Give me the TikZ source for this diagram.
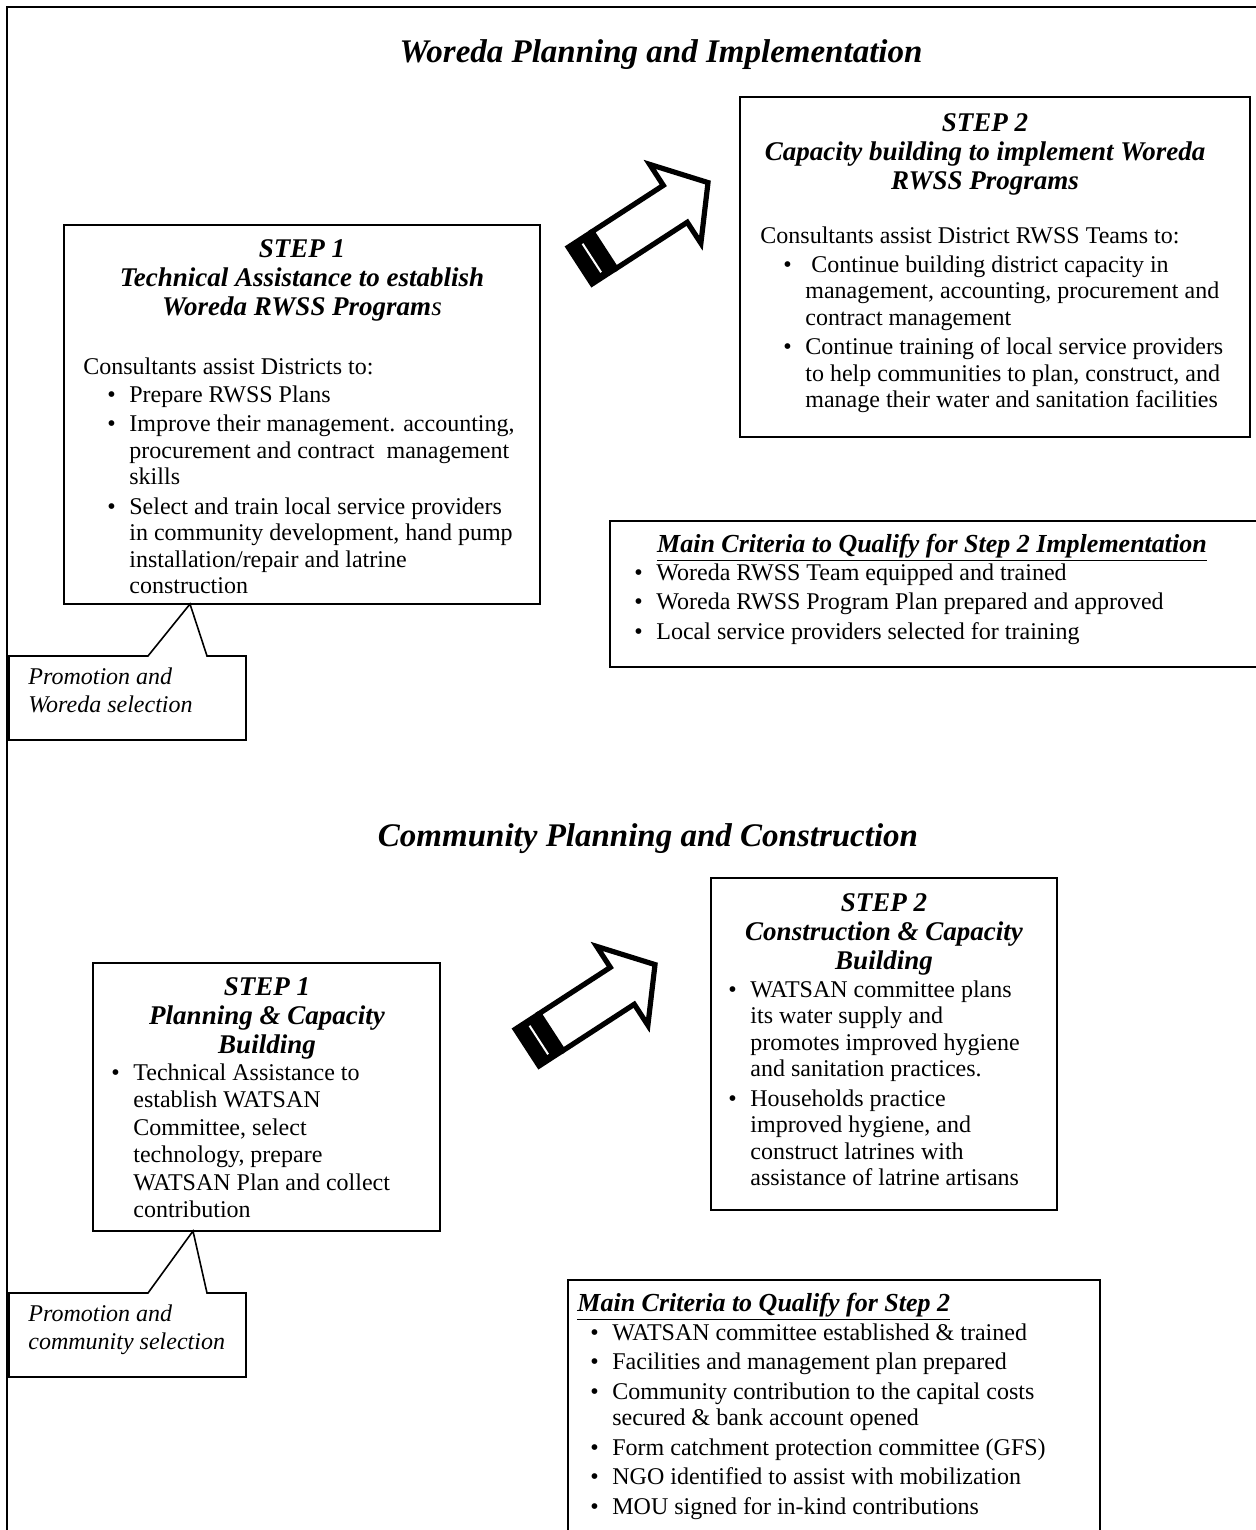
\documentclass[tikz,border=0pt]{standalone}
\usepackage{fontspec}
\setmainfont{Liberation Serif}
\newcommand\bul{\makebox[11pt][l]{\textbullet}}
\newcommand\StripedArrow[1]{%
  \begin{scope}[shift={#1},rotate=33]
    \fill[black] (0,-24.5) rectangle (31,24.5);
    \draw[white,line width=1pt] (16.5,-17) -- (16.5,17);
    \draw[arrowline] (31,-22) -- (116,-22) -- (116,-47) -- (155,0) -- (116,47) -- (116,22) -- (31,22) -- cycle;
  \end{scope}}
\begin{document}
\begin{tikzpicture}[x=0.5pt,y=-0.5pt,
  frame/.style={line width=1.3pt},
  boxline/.style={line width=0.8pt},
  arrowline/.style={line width=2.6pt,miter limit=10},
  body/.style={inner sep=0pt,anchor=base west,font=\fontsize{12}{13.25}\selectfont},
  bodyw/.style={inner sep=0pt,anchor=base west,font=\fontsize{12}{13.75}\selectfont},
  callt/.style={inner sep=0pt,anchor=base west,font=\fontsize{12}{14}\selectfont\itshape},
  head/.style={inner sep=0pt,anchor=base,font=\fontsize{13.5}{14.5}\selectfont\bfseries\itshape},
  crit/.style={inner sep=0pt,font=\fontsize{13}{14}\selectfont\bfseries\itshape},
  title/.style={inner sep=0pt,anchor=base,font=\fontsize{16.5}{20}\selectfont\bfseries\itshape}]
\useasboundingbox (0,0) rectangle (1255,1530);
\fill[white] (0,0) rectangle (1255,1530);
% outer frame
\draw[frame] (7,1540) -- (7,7) -- (1265,7);

% ---------- Woreda ----------
\node[title] (t1) at (661,63) {Woreda Planning and Implementation};

% Step 1 box
\draw[boxline] (64,225) rectangle (540,604);
\node[head] (w1h) at (302,257) {\begin{tabular}[t]{@{}c@{}}STEP 1\\Technical Assistance to establish\\Woreda RWSS Program\textmd{s}\end{tabular}};
\node[body] (w1i) at (83,374) {Consultants assist Districts to:};
\node[body] (w1l) at (107,402) {\begin{tabular}[t]{@{}l@{}l@{}}
\bul & Prepare RWSS Plans\\[1.5pt]
\bul & Improve their management. accounting,\\
 & procurement and contract\ \ management\\
 & skills\\[1.5pt]
\bul & Select and train local service providers\\
 & in community development, hand pump\\
 & installation/repair and latrine\\
 & construction
\end{tabular}};

% Step 2 box
\draw[boxline] (740,97) rectangle (1250,437);
\node[head] (w2h) at (985,132) {\begin{tabular}[t]{@{}c@{}}STEP 2\\Capacity building to implement Woreda\\RWSS Programs\end{tabular}};
\node[body] (w2i) at (760,243) {Consultants assist District RWSS Teams to:};
\node[body] (w2l) at (783,272) {\begin{tabular}[t]{@{}l@{}l@{}}
\bul & \ Continue building district capacity in\\
 & management, accounting, procurement and\\
 & contract management\\[1.5pt]
\bul & Continue training of local service providers\\
 & to help communities to plan, construct, and\\
 & manage their water and sanitation facilities
\end{tabular}};

% arrow
\StripedArrow{(578,267)}

% criteria box
\draw[boxline] (1265,521) -- (610,521) -- (610,667) -- (1265,667);
\node[crit,anchor=base] (w3h) at (932,552) {\underline{Main Criteria to Qualify for Step 2 Implementation}};
\node[body] (w3l) at (634,580) {\begin{tabular}[t]{@{}l@{}l@{}}
\bul & Woreda RWSS Team equipped and trained\\[1.5pt]
\bul & Woreda RWSS Program Plan prepared and approved\\[1.5pt]
\bul & Local service providers selected for training
\end{tabular}};

% callout 1
\draw[boxline] (9,656) -- (148,656) -- (190,604) -- (207,656) -- (246,656) -- (246,740) -- (9,740) -- cycle;
\node[callt] (c1) at (28,684) {Promotion and};
\node[callt] (c1b) at (28,712) {Woreda selection};

% ---------- Community ----------
\node[title] (t2) at (648,846) {Community Planning and Construction};

% Step 1 box
\draw[boxline] (93,963) rectangle (440,1231);
\node[head] (s1h) at (267,995) {\begin{tabular}[t]{@{}c@{}}STEP 1\\Planning \& Capacity\\Building\end{tabular}};
\node[bodyw] (s1l) at (111,1080) {\begin{tabular}[t]{@{}l@{}l@{}}
\bul & Technical Assistance to\\
 & establish WATSAN\\
 & Committee, select\\
 & technology, prepare\\
 & WATSAN Plan and collect\\
 & contribution
\end{tabular}};

% Step 2 box
\draw[boxline] (711,878) rectangle (1057,1210);
\node[head] (s2h) at (884,911) {\begin{tabular}[t]{@{}c@{}}STEP 2\\Construction \& Capacity\\Building\end{tabular}};
\node[body] (s2l) at (728,997) {\begin{tabular}[t]{@{}l@{}l@{}}
\bul & WATSAN committee plans\\
 & its water supply and\\
 & promotes improved hygiene\\
 & and sanitation practices.\\[1.5pt]
\bul & Households practice\\
 & improved hygiene, and\\
 & construct latrines with\\
 & assistance of latrine artisans
\end{tabular}};

% arrow
\StripedArrow{(525,1049)}

% callout 2
\draw[boxline] (9,1293) -- (148,1293) -- (193,1231) -- (207,1293) -- (246,1293) -- (246,1377) -- (9,1377) -- cycle;
\node[callt] (c2) at (28,1321) {Promotion and};
\node[callt] (c2b) at (28,1349) {community selection};

% criteria box
\draw[boxline] (568,1540) -- (568,1280) -- (1100,1280) -- (1100,1540);
\node[crit,anchor=base west] (s3h) at (577,1311) {\underline{Main Criteria to Qualify for Step 2}};
\node[body] (s3l) at (590,1340) {\begin{tabular}[t]{@{}l@{}l@{}}
\bul & WATSAN committee established \& trained\\[1.5pt]
\bul & Facilities and management plan prepared\\[1.5pt]
\bul & Community contribution to the capital costs\\
 & secured \& bank account opened\\[1.5pt]
\bul & Form catchment protection committee (GFS)\\[1.5pt]
\bul & NGO identified to assist with mobilization\\[1.5pt]
\bul & MOU signed for in-kind contributions
\end{tabular}};
\end{tikzpicture}
\end{document}
